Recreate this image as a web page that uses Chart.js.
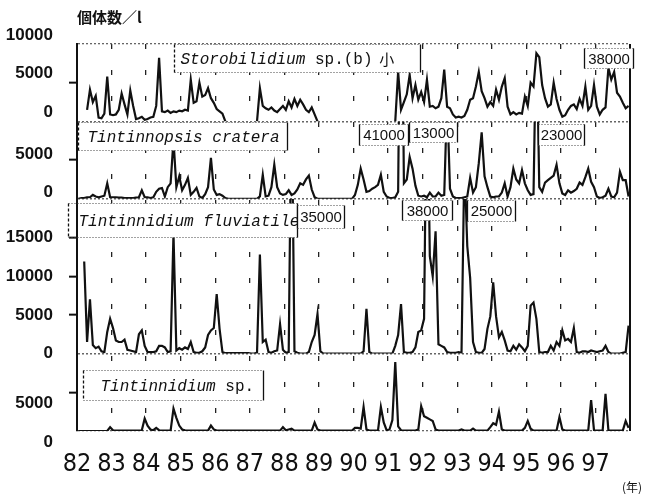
<!DOCTYPE html>
<html>
<head>
<meta charset="utf-8">
<script src="https://cdn.jsdelivr.net/npm/chart.js@4.4.1/dist/chart.umd.min.js"></script>
<style>
  html, body { margin: 0; padding: 0; background: #fff; }
</style>
</head>
<body>
<canvas id="chart" width="648" height="494"></canvas>
<script>
/* ---- data: monthly readings, one row per year 1982..1997 ---- */
const FIRST_YEAR = 1982;
const yearLabels = ['82', '83', '84', '85', '86', '87', '88', '89', '90', '91', '92', '93', '94', '95', '96', '97'];

const _ = null; // no sampling

const storobilidium = [
  _, _, _, 1500, 4100, 2500, 3300, 500, 400, 1000, 5800, 900,
  800, 900, 1500, 3600, 2200, 900, 4000, 2000, 300, 400, 600, 200,
  300, 500, 600, 2000, 8200, 1300, 1200, 1400, 1100, 1300, 1200, 1400,
  1300, 1500, 1400, 5400, 2400, 2600, 5000, 3200, 3400, 4300, 3000, 2400,
  1600, 1300, 1000, 0, _, _, _, _, _, _, _, _,
  _, _, 0, 4300, 2000, 1700, 1500, 1800, 1400, 1200, 1600, 2000,
  1500, 2600, 1800, 2900, 2000, 2800, 2200, 1500, 1200, 1800, 900, 0,
  _, _, _, _, _, _, _, _, _, _, _, _,
  _, _, _, _, _, _, _, _, _, _, _, _,
  _, _, 0, 6400, 1500, 2500, 3500, 6000, 3000, 4700, 2800, 3800,
  2500, 5400, 1900, 2000, 1700, 1900, 3000, 6700, 1900, 1700, 900, 500,
  600, 500, 700, 1500, 2800, 3000, 4500, 6400, 3900, 3000, 1900, 2500,
  2000, 4100, 2800, 4500, 5600, 1900, 900, 1200, 900, 1100, 1000, 3200,
  2000, 5000, 4500, 8800, 8300, 4700, 3000, 1900, 2200, 5000, 2900, 1500,
  600, 800, 1500, 2000, 2200, 1600, 2900, 2000, 4500, 1500, 2000, 4700,
  1900, 900, 1500, 1800, 6900, 5400, 6400, 3700, 3200, 2400, 1700, 2000
];

const tintinnopsis = [
  0, 100, 100, 200, 200, 500, 300, 200, 300, 400, 2000, 200,
  200, 200, 150, 150, 100, 100, 100, 100, 150, 200, 1100, 200,
  200, 100, 200, 900, 1300, 1400, 300, 1500, 2000, 7600, 1500, 2900,
  1100, 1800, 2700, 500, 900, 1400, 300, 100, 600, 1500, 5300, 1200,
  500, 600, 400, 100, 0, 0, 0, 0, 0, 0, 0, 0,
  0, 0, 0, 300, 3100, 300, 400, 1500, 4400, 1500, 700, 500,
  600, 1100, 500, 700, 1200, 2000, 1800, 2500, 3000, 1200, 200, 0,
  0, 0, 0, 0, 0, 0, 0, 0, 0, 0, 0, 0,
  500, 1800, 3900, 2500, 900, 1000, 1300, 1500, 1800, 3100, 900, 300,
  100, 100, 200, 900, 41000, 2000, 2500, 5400, 3900, 1700, 400, 300,
  400, 200, 800, 300, 300, 800, 400, 500, 13000, 1300, 300, 100,
  100, 100, 200, 300, 2700, 800, 1500, 4600, 8600, 2900, 1500, 300,
  200, 300, 300, 800, 2000, 300, 1500, 3900, 2500, 2000, 3700, 2000,
  1100, 500, 600, 23000, 1500, 900, 2100, 2400, 2700, 3000, 4400, 2000,
  700, 500, 1100, 800, 1000, 1300, 2100, 1800, 2800, 3900, 2200, 1500,
  300, 100, 200, 400, 1300, 300, 200, 800, 3500, 2400, 2400, 300
];

const fluviatile = [
  _, _, 11900, 1500, 7000, 1100, 700, 900, 300, 200, 2800, 4500,
  3300, 1700, 1500, 1500, 1800, 500, 400, 300, 200, 2500, 3000, 1000,
  200, 200, 200, 300, 1000, 1000, 800, 200, 300, 15500, 400, 700,
  500, 800, 600, 1500, 200, 100, 100, 300, 800, 2400, 3000, 3300,
  7700, 3200, 200, 50, 50, 50, 50, 50, 50, 50, 50, 50,
  0, 0, 100, 12800, 1500, 1800, 200, 100, 300, 400, 3800, 500,
  100, 200, 35000, 300, 100, 0, 0, 0, 200, 1500, 2400, 5100,
  300, 0, 0, 0, 0, 0, 0, 0, 0, 0, 0, 0,
  0, 0, 0, 300, 5800, 200, 0, 0, 0, 0, 0, 0,
  0, 0, 1000, 2400, 6400, 200, 100, 100, 200, 800, 2800, 3000,
  4500, 38000, 12600, 10000, 15800, 1200, 1000, 800, 200, 100, 100, 100,
  200, 100, 25000, 13900, 9800, 1500, 200, 100, 100, 600, 3200, 4800,
  9200, 4800, 2100, 2800, 1700, 400, 300, 1000, 500, 1200, 800, 300,
  1000, 6200, 6600, 4500, 200, 100, 200, 200, 1000, 400, 1500, 1000,
  3000, 1700, 1900, 1500, 3300, 200, 100, 300, 300, 200, 400, 300,
  200, 300, 400, 1000, 200, 0, 0, 0, 0, 100, 200, 3600
];

const tintinnidiumSp = [
  0, 0, 0, 0, 0, 0, 0, 0, 0, 0, 0, 500,
  100, 50, 50, 50, 50, 50, 50, 50, 50, 50, 100, 1600,
  700, 200, 100, 400, 100, 50, 50, 50, 50, 2900, 1700, 700,
  200, 100, 50, 50, 50, 50, 50, 50, 50, 50, 700, 200,
  50, 50, 50, 50, 50, 50, 50, 50, 50, 50, 50, 50,
  50, 50, 50, 50, 50, 50, 50, 50, 50, 50, 50, 500,
  100, 200, 300, 50, 50, 50, 50, 50, 50, 50, 1100, 200,
  50, 50, 50, 50, 50, 50, 50, 50, 50, 50, 50, 50,
  400, 400, 300, 3100, 200, 50, 50, 50, 50, 3100, 1100, 100,
  200, 1400, 8900, 600, 100, 50, 50, 50, 50, 50, 200, 3200,
  1900, 1700, 1500, 1300, 200, 50, 50, 50, 50, 50, 50, 50,
  50, 200, 50, 50, 50, 300, 50, 50, 50, 50, 50, 500,
  1000, 800, 2500, 200, 50, 50, 50, 50, 50, 50, 50, 400,
  1300, 300, 50, 50, 50, 50, 50, 50, 50, 50, 50, 1800,
  200, 50, 50, 50, 50, 50, 50, 50, 50, 50, 4000, 100,
  50, 50, 50, 4800, 100, 50, 50, 50, 50, 50, 1300, 400
];

// y tick labels shown per panel
const storoTicks = [0, 5000, 10000];
const crateraTicks = [0, 5000];
const fluvTicks = [0, 5000, 10000, 15000];
const spTicks = [0, 5000];

/* ---- styles ---- */
const INK = '#111';
const SPECIES = 'italic 16px "Liberation Mono", "DejaVu Sans Mono", monospace';
const PLAIN = '16px "Liberation Mono", "DejaVu Sans Mono", monospace';
const CJK = '15px "Noto Sans CJK JP"';
const NUM = '15px "Liberation Sans", Arial, sans-serif';

// text boxes pinned to a year (x) and an offset below the panel top (dy)
const labelBoxes = [
  { axis: 'yStoro', year: 1984.80, dy: 0, w: 246, h: 28, pad: 6, species: true, parts: [['Storobilidium', SPECIES], [' sp.(b)', PLAIN], ['  小', CJK]] },
  { axis: 'yStoro', year: 1996.67, dy: 4, w: 49, h: 20, parts: [['38000', NUM]] },
  { axis: 'yCrat', year: 1982.03, dy: 1, w: 209, h: 28, pad: 9, species: true, parts: [['Tintinnopsis cratera', SPECIES]] },
  { axis: 'yCrat', year: 1990.16, dy: 3, w: 49, h: 21, parts: [['41000', NUM]] },
  { axis: 'yCrat', year: 1991.60, dy: 1, w: 48, h: 20, parts: [['13000', NUM]] },
  { axis: 'yCrat', year: 1995.34, dy: 3, w: 46, h: 21, parts: [['23000', NUM]] },
  { axis: 'yFluv', year: 1981.74, dy: 4, w: 229, h: 34, pad: 10, species: true, parts: [['Tintinnidium fluviatile', SPECIES]] },
  { axis: 'yFluv', year: 1988.37, dy: 6, w: 47, h: 23, parts: [['35000', NUM]] },
  { axis: 'yFluv', year: 1991.39, dy: 1, w: 50, h: 20, parts: [['38000', NUM]] },
  { axis: 'yFluv', year: 1993.27, dy: 1, w: 48, h: 21, parts: [['25000', NUM]] },
  { axis: 'ySp', year: 1982.17, dy: 16, w: 180, h: 30, pad: 17, species: true, parts: [['Tintinnidium', SPECIES], [' sp.', PLAIN]] }
];

function toPoints(values) {
  return values.map((v, i) => ({ x: FIRST_YEAR + (i + 0.5) / 12, y: v }));
}

function series(values, axis) {
  return {
    data: toPoints(values),
    yAxisID: axis,
    borderColor: INK,
    borderWidth: 2.2,
    pointRadius: 0,
    tension: 0,
    spanGaps: false
  };
}

function panelAxis(max, labels, weight, labelOffset) {
  const edge = v => v === 0 || v === max;
  return {
    type: 'linear',
    position: 'left',
    stack: 'panels',
    stackWeight: weight,
    min: 0,
    max: max,
    afterFit: s => { s.width = 77; },
    ticks: {
      stepSize: 5000,
      autoSkip: false,
      padding: 16,
      labelOffset: labelOffset,
      color: INK,
      font: { family: '"Liberation Sans", Arial, sans-serif', size: 17, weight: 'bold' },
      callback: v => labels.includes(v) ? String(v) : ''
    },
    grid: {
      color: c => edge(c.tick.value) ? '#666' : 'rgba(0,0,0,0)',
      lineWidth: 1.3,
      tickLength: 8,
      tickWidth: 2,
      tickColor: c => edge(c.tick.value) ? 'rgba(0,0,0,0)' : INK
    },
    border: { display: true, color: INK, width: 2, dash: [2, 2] }
  };
}

// keep each series inside its own panel
const panelClip = {
  id: 'panelClip',
  beforeDatasetDraw(chart, args) {
    const s = chart.scales[args.meta.yAxisID];
    const a = chart.chartArea;
    chart.ctx.save();
    chart.ctx.beginPath();
    chart.ctx.rect(a.left, s.top, a.right - a.left, s.bottom - s.top + 1);
    chart.ctx.clip();
  },
  afterDatasetDraw(chart) {
    chart.ctx.restore();
  }
};

const frame = {
  id: 'frame',
  afterDatasetsDraw(chart) {
    const ctx = chart.ctx;
    const a = chart.chartArea;
    const xs = chart.scales.x;
    ctx.save();
    // right edge of the frame
    ctx.strokeStyle = INK;
    ctx.lineWidth = 2;
    ctx.beginPath();
    ctx.moveTo(a.right, a.top);
    ctx.lineTo(a.right, a.bottom);
    ctx.stroke();

    labelBoxes.forEach(b => {
      const x = Math.round(xs.getPixelForValue(b.year)) + 0.5;
      const y = Math.round(chart.scales[b.axis].top + b.dy) + 0.5;
      const fx = Math.max(x, a.left + 1.5);
      ctx.fillStyle = '#fff';
      ctx.fillRect(fx, y, x + b.w - fx, b.h);
      ctx.strokeStyle = '#444';
      ctx.lineWidth = 1;
      ctx.setLineDash([1, 2]);
      ctx.beginPath();
      ctx.moveTo(x, y); ctx.lineTo(x + b.w, y);
      ctx.moveTo(x, y + b.h); ctx.lineTo(x + b.w, y + b.h);
      ctx.stroke();
      ctx.strokeStyle = INK;
      ctx.lineWidth = 1.3;
      ctx.setLineDash(b.species ? [3, 2] : []);
      ctx.beginPath();
      ctx.moveTo(x, y); ctx.lineTo(x, y + b.h);
      ctx.stroke();
      ctx.setLineDash([]);
      ctx.beginPath();
      ctx.moveTo(x + b.w, y); ctx.lineTo(x + b.w, y + b.h);
      ctx.stroke();

      ctx.fillStyle = INK;
      ctx.textBaseline = 'middle';
      let tx;
      if (b.pad !== undefined) {
        tx = x + b.pad;
      } else {
        ctx.font = b.parts[0][1];
        tx = x + (b.w - ctx.measureText(b.parts[0][0]).width) / 2;
      }
      b.parts.forEach(([text, font]) => {
        ctx.font = font;
        ctx.fillText(text, tx, y + b.h / 2 + 1);
        tx += ctx.measureText(text).width;
      });
    });

    ctx.font = '12px "Noto Sans CJK JP"';
    ctx.textBaseline = 'middle';
    ctx.fillStyle = INK;
    ctx.fillText('(年)', 622, 487);
    ctx.restore();
  }
};

new Chart(document.getElementById('chart'), {
  type: 'line',
  data: {
    datasets: [
      series(storobilidium, 'yStoro'),
      series(tintinnopsis, 'yCrat'),
      series(fluviatile, 'yFluv'),
      series(tintinnidiumSp, 'ySp')
    ]
  },
  options: {
    responsive: false,
    animation: false,
    devicePixelRatio: 1,
    layout: { padding: { left: 0, right: 16, top: 0, bottom: 0 } },
    scales: {
      x: {
        type: 'linear',
        min: 1982,
        max: 1998,
        afterFit: s => { s.height = 63; },
        ticks: {
          stepSize: 1,
          autoSkip: false,
          maxRotation: 0,
          padding: 18,
          color: INK,
          font: { family: '"Liberation Sans Narrow", "DejaVu Sans Condensed", sans-serif', size: 25 },
          callback: v => yearLabels[Math.round(v) - FIRST_YEAR] || ''
        },
        grid: {
          drawTicks: false,
          lineWidth: 1.3,
          color: c => (c.tick && (c.tick.value === 1982 || c.tick.value === 1998)) ? 'rgba(0,0,0,0)' : '#222'
        },
        border: { display: false, dash: [5, 21] }
      },
      // last defined sits on top of the stack
      ySp: panelAxis(10000, spTicks, 1, 11),
      yFluv: panelAxis(20000, fluvTicks, 2, 0),
      yCrat: panelAxis(10000, crateraTicks, 1, -6),
      yStoro: panelAxis(10000, storoTicks, 1, -9)
    },
    plugins: {
      legend: { display: false },
      tooltip: { enabled: false },
      title: {
        display: true,
        text: '個体数／l',
        align: 'start',
        fullSize: false,
        color: INK,
        font: { family: '"Noto Sans CJK JP"', size: 15, weight: 'bold' },
        padding: { top: 8, bottom: 18 }
      }
    }
  },
  plugins: [panelClip, frame]
});
</script>
</body>
</html>
